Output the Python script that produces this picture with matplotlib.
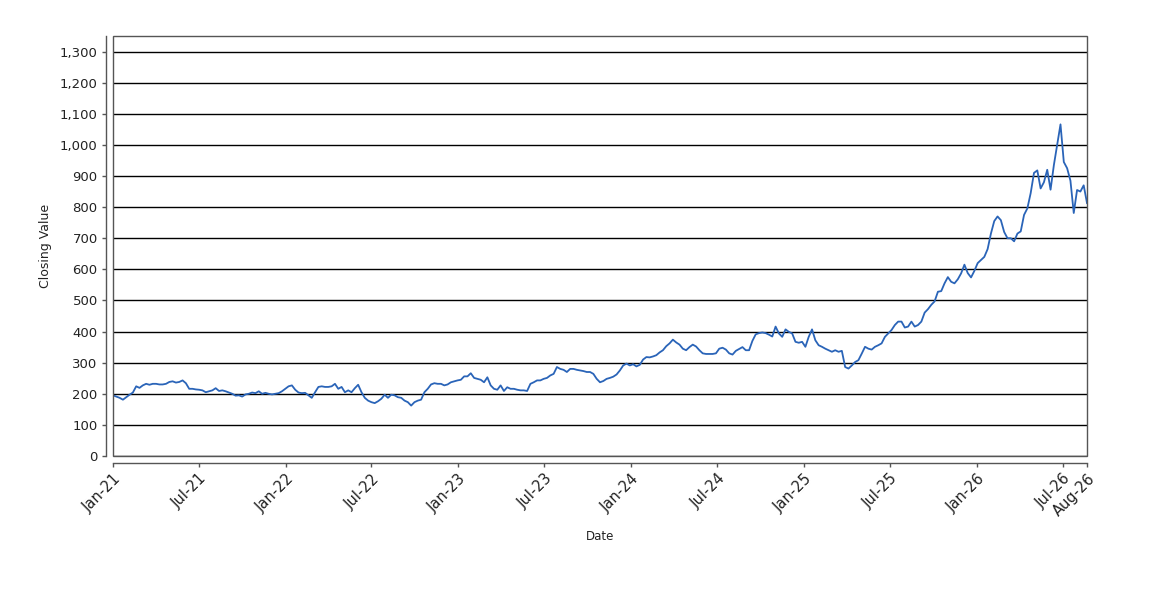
import matplotlib
matplotlib.use('Agg')
import matplotlib.pyplot as plt
import matplotlib.dates as mdates
import matplotlib.ticker as mticker
from matplotlib.patches import Rectangle
import pandas as pd

start_date = '2021-01-01'
end_date = '2026-08-21'

# weekly closing values
closing_values = [
    195, 191, 187, 181, 189, 197, 204, 224, 219, 227, 232, 229, 232, 232, 230, 230, 232, 238, 240, 236,
    238, 243, 234, 216, 216, 214, 213, 211, 205, 208, 211, 218, 209, 211, 208, 204, 200, 194, 195, 191,
    198, 200, 204, 202, 208, 200, 203, 200, 198, 200, 202,
    208, 216, 224, 227, 213, 204, 202, 203, 195, 187, 205, 222, 224, 222, 222, 224, 232, 216, 222, 205,
    211, 205, 218, 229, 205, 187, 178, 173, 170, 176, 184, 197, 187, 197, 195, 189, 187, 178, 173, 162,
    173, 178, 181, 205, 216, 230, 234, 232, 232, 227,
    230, 237, 240, 243, 245, 256, 256, 266, 251, 248, 245, 237, 253, 227, 216, 213, 227, 209, 221, 216,
    216, 213, 211, 211, 209, 232, 237, 243, 243, 248, 251, 259, 264, 286, 280, 277, 270, 280, 280, 277,
    275, 273, 270, 270, 264, 248, 237, 241, 248, 251,
    255, 262,
    275, 291, 297, 291, 295, 288, 293, 310, 318, 317, 320, 324, 333, 340, 353, 362, 374, 365, 358, 345,
    340, 350, 358, 352, 340, 330, 328, 328, 328, 330, 345, 348, 342, 330, 326, 338, 344, 350, 340, 340,
    370, 391, 395, 397, 395, 390, 384,
    416, 394, 383, 407, 399, 394, 367, 364, 367, 351, 383, 407, 372, 356, 351, 345, 340, 335, 340, 335,
    338, 286, 281, 291, 302, 308, 329, 351, 345, 342, 351, 356, 362, 383, 394, 405, 421, 432, 432, 413,
    416, 432, 416, 421, 432, 461, 472, 486, 497,
    528, 530, 555, 575, 560, 555, 568, 587, 615, 588, 574, 595, 620, 630, 640, 665, 715, 755, 770, 758,
    720, 700, 700, 690, 715, 722, 775, 796, 845, 910, 918, 860, 880, 920, 856, 935, 1000, 1066, 945, 925,
    885, 781, 855, 850, 870, 813,
]

y_ticks = list(range(0, 1400, 100))
x_tick_dates = ['2021-01-01', '2021-07-01', '2022-01-01', '2022-07-01', '2023-01-01', '2023-07-01',
                '2024-01-01', '2024-07-01', '2025-01-01', '2025-07-01', '2026-01-01', '2026-07-01',
                '2026-08-21']
x_tick_labels = ['Jan-21', 'Jul-21', 'Jan-22', 'Jul-22', 'Jan-23', 'Jul-23', 'Jan-24', 'Jul-24',
                 'Jan-25', 'Jul-25', 'Jan-26', 'Jul-26', 'Aug-26']

dates = pd.date_range(start_date, periods=len(closing_values), freq='7D')

W, H = 1150, 600
fig = plt.figure(figsize=(W / 100, H / 100), dpi=100)
ax = fig.add_axes([113 / W, 1 - 456 / H, 974 / W, 420 / H])

ax.plot(mdates.date2num(dates.to_pydatetime()), closing_values, color='#2a64b8', lw=1.3, zorder=3)

ax.set_xlim(mdates.date2num(pd.Timestamp(start_date).to_pydatetime()),
            mdates.date2num(pd.Timestamp(end_date).to_pydatetime()))
ax.set_ylim(0, 1350)
ax.set_yticks(y_ticks)
ax.yaxis.set_major_formatter(mticker.StrMethodFormatter('{x:,.0f}'))
ax.grid(axis='y', color='black', lw=1)
ax.set_axisbelow(True)

edge = '#555555'
for s in ['top', 'right']:
    ax.spines[s].set_visible(False)
for s in ['left', 'bottom']:
    ax.spines[s].set_position(('outward', 5))
    ax.spines[s].set_color(edge)
    ax.spines[s].set_linewidth(1)
ax.tick_params(axis='both', length=3, width=1, color=edge, labelcolor='#222222', pad=3)

ax.set_xticks([mdates.date2num(pd.Timestamp(d).to_pydatetime()) for d in x_tick_dates])
ax.set_xticklabels(x_tick_labels)
for lbl in ax.get_xticklabels():
    lbl.set_rotation(45)
    lbl.set_ha('right')
    lbl.set_rotation_mode('anchor')
    lbl.set_fontsize(10.5)
for lbl in ax.get_yticklabels():
    lbl.set_fontsize(9.5)

ax.add_patch(Rectangle((0, 0), 1, 1, transform=ax.transAxes, fill=False, edgecolor=edge,
                       lw=1, clip_on=False, zorder=4))

fig.text(45 / W, 1 - 246 / H, 'Closing Value', rotation=90, ha='center', va='center',
         fontsize=9, color='#222222')
fig.text(600 / W, 1 - 536 / H, 'Date', ha='center', va='center', fontsize=8.5, color='#222222')

fig.savefig('out.png', dpi=100)
